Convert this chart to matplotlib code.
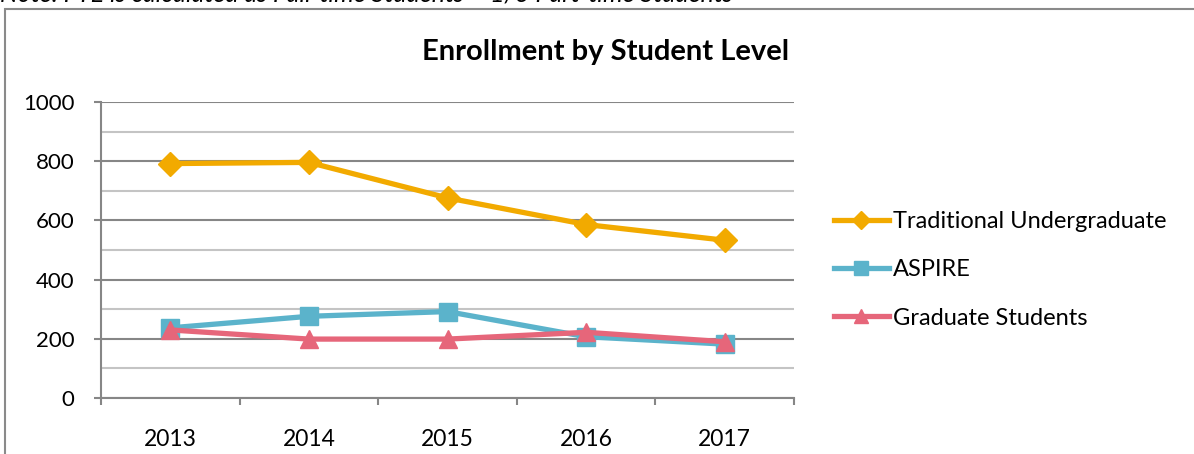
import numpy as np
import matplotlib
matplotlib.use("Agg")
from matplotlib import pyplot as plt
from matplotlib.patches import Rectangle

plt.rcParams['font.family'] = ['Lato', 'DejaVu Sans']

# data
years = ["2013", "2014", "2015", "2016", "2017"]
traditional = [792, 796, 676, 586, 533]
aspire = [237, 276, 292, 207, 182]
graduate = [230, 199, 199, 222, 190]

series_names = ["Traditional Undergraduate", "ASPIRE", "Graduate Students"]
colors = ["#F2AA00", "#5BB3CB", "#E6667A"]
markers = ["D", "s", "^"]

fig = plt.figure(figsize=(11.94, 4.54), dpi=100)
ax = fig.add_axes([101 / 1194, 1 - 398 / 454, (794 - 101) / 1194, (398 - 102) / 454])

x = np.arange(len(years))
for vals, name, c, m in zip([traditional, aspire, graduate], series_names, colors, markers):
    ms = 12 if m == "D" else 13
    ax.plot(x, vals, color=c, lw=3.8, marker=m, ms=ms, label=name, zorder=3)

ax.set_xlim(-0.5, len(years) - 0.5)
ax.set_ylim(0, 1000)
ax.set_yticks(range(0, 1001, 200))
ax.set_yticks(range(100, 1000, 200), minor=True)
ax.grid(axis="y", which="major", color="#868686", lw=1.5)
ax.grid(axis="y", which="minor", color="#C4C4C4", lw=1.5)
ax.set_axisbelow(True)

ax.set_xticks(x)
ax.set_xticklabels(years)
ax.set_xticks(np.arange(-0.5, len(years)), minor=True)
ax.tick_params(axis="x", which="major", length=0, pad=22, labelsize=16.5)
ax.tick_params(axis="x", which="minor", length=5, width=1.5, color="#868686")
ax.tick_params(axis="y", which="major", length=5, width=1.5, color="#868686", pad=14, labelsize=16)
ax.tick_params(axis="y", which="minor", length=0)

for s in ["top", "right"]:
    ax.spines[s].set_visible(False)
for s in ["left", "bottom"]:
    ax.spines[s].set_color("#868686")
    ax.spines[s].set_linewidth(1.5)

fig.text(606 / 1194, 1 - 52 / 454, "Enrollment by Student Level", ha="center", va="center",
         fontsize=21, fontweight="bold")

fig.legend(loc="center left", bbox_to_anchor=(813 / 1194, 1 - 270 / 454), frameon=False,
           fontsize=17, handlelength=2.3, labelspacing=1.15, handletextpad=0.2, markerscale=0.75)

# outer chart border
fig.patches.append(Rectangle((5 / 1194, -0.1), 1.2, 1 - 9 / 454 + 0.1, transform=fig.transFigure,
                             fill=False, ec="#8A8A8A", lw=1.5))

# note line cut off at the top of the picture
fig.text(0.0, 1 - 1.5 / 454, "Note: FTE is calculated as Full-time Students + 1/3 Part-time Students",
         ha="left", va="baseline", style="italic", fontsize=18)

fig.savefig("out.png", dpi=100)
